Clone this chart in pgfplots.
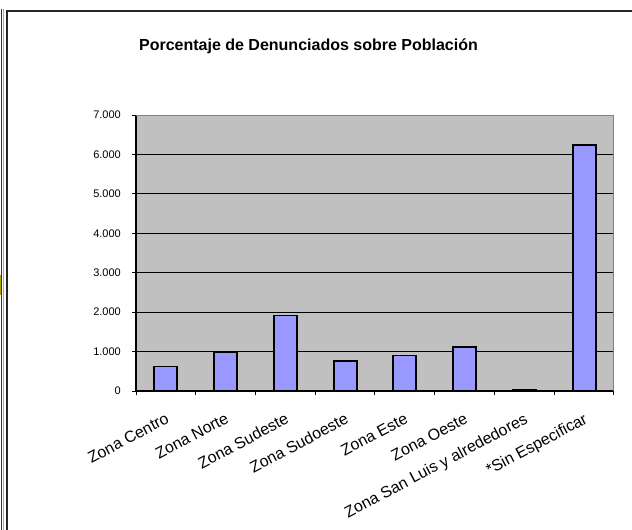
\documentclass[border=0pt]{standalone}
\usepackage{pgfplots}
\pgfplotsset{compat=1.18}
\usepackage{fontspec}
\setmainfont{Liberation Sans}
\definecolor{plotgray}{HTML}{C0C0C0}
\definecolor{barblue}{HTML}{9999FF}
\definecolor{bordergray}{HTML}{808080}
\begin{document}
\begin{tikzpicture}[x=1pt,y=1pt]
\path[use as bounding box] (0,0) rectangle (632,-530);
\fill[white] (0,0) rectangle (632,-530);
\draw[line width=1.2pt, black!80] (1.2,-9) -- (1.2,-530);
\draw[line width=0.8pt, black!35] (2.9,-9) -- (2.9,-530);
\fill[olive!70!yellow] (0,-275) rectangle (1.0,-295);
\draw[line width=1.6pt, black!85] (6.8,-530) -- (6.8,-11.2) -- (632,-11.2);
\node[font=\fontsize{16}{19}\selectfont\bfseries, anchor=base, inner sep=0pt] at (308.5,-50) {Porcentaje de Denunciados sobre Población};
\begin{axis}[
  at={(136pt,-391pt)}, anchor=south west, scale only axis,
  width=478pt, height=276pt,
  xmin=-0.5, xmax=7.5, ymin=0, ymax=7000,
  ybar, bar width=23pt,
  axis background/.style={fill=plotgray},
  axis x line*=bottom, axis y line*=left,
  axis line style={black, line width=1.5pt},
  ymajorgrids, grid style={black, line width=1pt},
  ytick={0,1000,...,7000},
  yticklabels={0,1.000,2.000,3.000,4.000,5.000,6.000,7.000},
  xtick={-0.5,0.5,...,7.5}, xticklabels={},
  tick align=outside, major tick length=4pt,
  tick style={black, line width=1pt},
  yticklabel style={font=\fontsize{11}{13}\selectfont, inner sep=0pt, anchor=east, xshift=-11pt},
  extra x ticks={0,1,2,3,4,5,6,7},
  extra x tick labels={Zona Centro,Zona Norte,Zona Sudeste,Zona Sudoeste,Zona Este,Zona Oeste,Zona San Luis y alrededores,*Sin Especificar},
  extra x tick style={major tick length=0pt, tick style={draw=none},
    xticklabel style={font=\fontsize{16}{18}\selectfont, yshift=-21pt, xshift=-1pt, rotate=28, anchor=north east, inner sep=0pt}},
]
\addplot[ybar, fill=barblue, draw=black, line width=1.8pt] coordinates {
  (0,620) (1,990) (2,1915) (3,770) (4,900) (5,1111) (6,38) (7,6243)
};
\draw[bordergray, line width=1.5pt] (rel axis cs:0,1) -- (rel axis cs:1,1) -- (rel axis cs:1,0);
\end{axis}
\end{tikzpicture}
\end{document}
